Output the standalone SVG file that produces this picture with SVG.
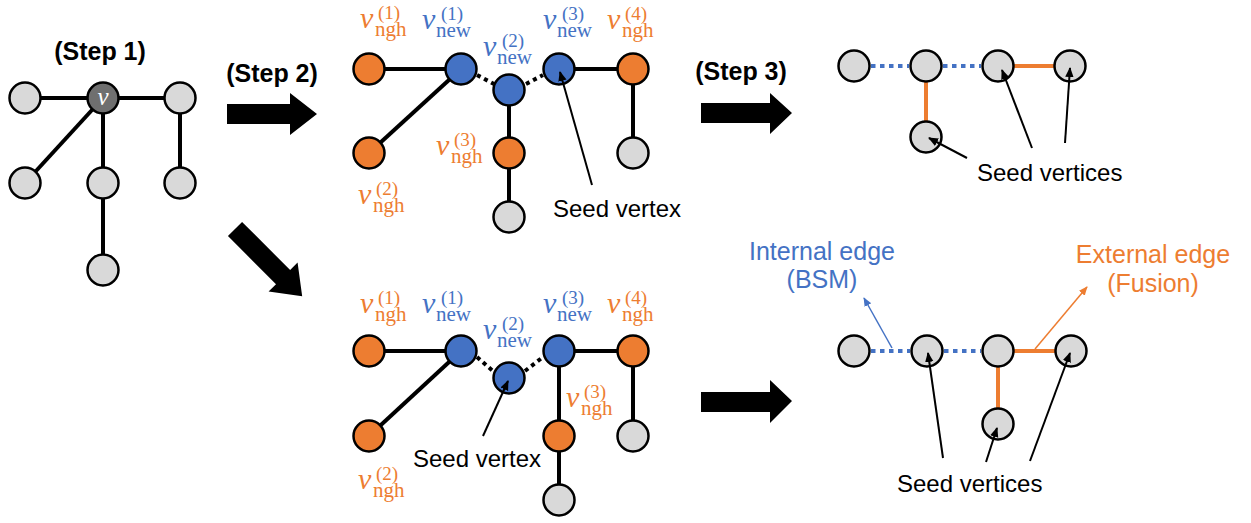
<svg xmlns="http://www.w3.org/2000/svg" width="1251" height="523" viewBox="0 0 1251 523">
<style>
.n{fill:#D9D9D9;stroke:#000;stroke-width:2.5}
.nd{fill:#6F6F6F;stroke:#000;stroke-width:2.5}
.no{fill:#ED7D31;stroke:#000;stroke-width:2.5}
.nb{fill:#4472C4;stroke:#000;stroke-width:2.5}
.e{stroke:#000;stroke-width:4;fill:none}
.ed{stroke:#000;stroke-width:4;stroke-dasharray:4 4;fill:none}
.eb{stroke:#4472C4;stroke-width:4;stroke-dasharray:4.5 4.5;fill:none}
.eo{stroke:#ED7D31;stroke-width:4;fill:none}
.ta{stroke:#000;stroke-width:2;fill:none;marker-end:url(#ak)}
.tb{stroke:#4472C4;stroke-width:1.5;fill:none;marker-end:url(#ab)}
.to{stroke:#ED7D31;stroke-width:1.5;fill:none;marker-end:url(#ao)}
.big{fill:#000}
.step{font-family:"Liberation Sans",Arial,sans-serif;font-weight:bold;font-size:25px;fill:#000}
.lab{font-family:"Liberation Sans",Arial,sans-serif;font-size:24px;fill:#000}
.labb{font-family:"Liberation Sans",Arial,sans-serif;font-size:25px;fill:#4472C4;text-anchor:middle}
.labo{font-family:"Liberation Sans",Arial,sans-serif;font-size:25px;fill:#ED7D31;text-anchor:middle}
.m{font-family:"Liberation Serif","Times New Roman",serif}
.mv{font-style:italic;font-size:30px}
.ms{font-size:21px}
.mp{font-size:19px}
.lo{fill:#ED7D31}
.lb{fill:#4472C4}
</style>
<defs>
<marker id="ak" markerUnits="userSpaceOnUse" markerWidth="10" markerHeight="10" viewBox="0 0 10 10" refX="9" refY="5" orient="auto"><path d="M0,0.8 L10,5 L0,9.2 Z" fill="#000"/></marker>
<marker id="ab" markerUnits="userSpaceOnUse" markerWidth="9" markerHeight="9" viewBox="0 0 10 10" refX="9" refY="5" orient="auto"><path d="M0,0.8 L10,5 L0,9.2 Z" fill="#4472C4"/></marker>
<marker id="ao" markerUnits="userSpaceOnUse" markerWidth="9" markerHeight="9" viewBox="0 0 10 10" refX="9" refY="5" orient="auto"><path d="M0,0.8 L10,5 L0,9.2 Z" fill="#ED7D31"/></marker>
</defs>

<g id="connectors">
<!-- step 1 graph -->
<line class="e" x1="25" y1="98" x2="180" y2="98"/>
<line class="e" x1="103" y1="98" x2="25" y2="183"/>
<line class="e" x1="103" y1="98" x2="103" y2="270"/>
<line class="e" x1="180" y1="98" x2="180" y2="183"/>
<!-- step 2 top -->
<line class="e" x1="369" y1="69" x2="461" y2="69"/>
<line class="e" x1="461" y1="69" x2="369" y2="153"/>
<line class="ed" x1="477" y1="75" x2="494" y2="84"/>
<line class="ed" x1="526" y1="84" x2="543" y2="75"/>
<line class="e" x1="559" y1="69" x2="633" y2="69"/>
<line class="e" x1="509" y1="90" x2="509" y2="217"/>
<line class="e" x1="633" y1="69" x2="633" y2="153"/>
<!-- step 2 bottom -->
<line class="e" x1="369" y1="351" x2="461" y2="351"/>
<line class="e" x1="461" y1="351" x2="369" y2="436"/>
<line class="ed" x1="477" y1="357" x2="494" y2="372"/>
<line class="ed" x1="525" y1="371" x2="543" y2="357"/>
<line class="e" x1="559" y1="351" x2="633" y2="351"/>
<line class="e" x1="559" y1="351" x2="559" y2="500"/>
<line class="e" x1="633" y1="351" x2="633" y2="436"/>
<!-- step 3 top -->
<line class="eb" x1="871" y1="66" x2="909" y2="66"/>
<line class="eb" x1="943" y1="66" x2="981" y2="66"/>
<line class="eo" x1="998" y1="66" x2="1070" y2="66"/>
<line class="eo" x1="926" y1="66" x2="926" y2="137"/>
<!-- step 3 bottom -->
<line class="eb" x1="871" y1="351" x2="910" y2="351"/>
<line class="eb" x1="944" y1="351" x2="981" y2="351"/>
<line class="eo" x1="998" y1="351" x2="1071" y2="351"/>
<line class="eo" x1="998" y1="351" x2="998" y2="424"/>
<!-- big arrows -->
<polygon class="big" points="227,104 290,104 290,93 317,114 290,135 290,124 227,124"/>
<polygon class="big" points="701,103 770,103 770,93 792,113 770,134 770,123 701,123"/>
<polygon class="big" points="701,392 770,392 770,380 792,401 770,423 770,412 701,412"/>
<polygon class="big" transform="translate(235,229) rotate(45)" points="0,-10 68,-10 68,-20.5 95,0 68,20.5 68,10 0,10"/>
</g>

<!-- step 1 nodes -->
<g id="s1-left"><circle class="n" cx="25" cy="98" r="15.5"/></g>
<g id="s1-v"><circle class="nd" cx="103" cy="98" r="15.5"/><text x="103" y="105" text-anchor="middle" font-family="Liberation Serif, serif" font-style="italic" font-size="25" fill="#fff">v</text></g>
<g id="s1-right"><circle class="n" cx="180" cy="98" r="15.5"/></g>
<g id="s1-bl"><circle class="n" cx="25" cy="183" r="15.5"/></g>
<g id="s1-mid"><circle class="n" cx="103" cy="183" r="15.5"/></g>
<g id="s1-br"><circle class="n" cx="180" cy="183" r="15.5"/></g>
<g id="s1-bottom"><circle class="n" cx="103" cy="270" r="15.5"/></g>

<!-- step 2 top nodes -->
<g id="t-ngh1"><circle class="no" cx="369" cy="69" r="15.5"/></g>
<g id="t-new1"><circle class="nb" cx="461" cy="69" r="15.5"/></g>
<g id="t-new2"><circle class="nb" cx="509" cy="90" r="15.5"/></g>
<g id="t-new3"><circle class="nb" cx="559" cy="69" r="15.5"/></g>
<g id="t-ngh4"><circle class="no" cx="633" cy="69" r="15.5"/></g>
<g id="t-ngh2"><circle class="no" cx="369" cy="153" r="15.5"/></g>
<g id="t-ngh3"><circle class="no" cx="509" cy="153" r="15.5"/></g>
<g id="t-g1"><circle class="n" cx="509" cy="217" r="15.5"/></g>
<g id="t-g2"><circle class="n" cx="633" cy="153" r="15.5"/></g>

<!-- step 2 bottom nodes -->
<g id="b-ngh1"><circle class="no" cx="369" cy="351" r="15.5"/></g>
<g id="b-new1"><circle class="nb" cx="461" cy="351" r="15.5"/></g>
<g id="b-new2"><circle class="nb" cx="509" cy="378" r="15.5"/></g>
<g id="b-new3"><circle class="nb" cx="559" cy="351" r="15.5"/></g>
<g id="b-ngh4"><circle class="no" cx="633" cy="351" r="15.5"/></g>
<g id="b-ngh2"><circle class="no" cx="369" cy="436" r="15.5"/></g>
<g id="b-ngh3"><circle class="no" cx="559" cy="436" r="15.5"/></g>
<g id="b-g1"><circle class="n" cx="559" cy="500" r="15.5"/></g>
<g id="b-g2"><circle class="n" cx="633" cy="436" r="15.5"/></g>

<!-- step 3 nodes -->
<g id="r1-a"><circle class="n" cx="854" cy="66" r="15.5"/></g>
<g id="r1-b"><circle class="n" cx="926" cy="66" r="15.5"/></g>
<g id="r1-c"><circle class="n" cx="998" cy="66" r="15.5"/></g>
<g id="r1-d"><circle class="n" cx="1070" cy="66" r="15.5"/></g>
<g id="r1-e"><circle class="n" cx="926" cy="137" r="15.5"/></g>
<g id="r2-a"><circle class="n" cx="854" cy="351" r="15.5"/></g>
<g id="r2-b"><circle class="n" cx="927" cy="351" r="15.5"/></g>
<g id="r2-c"><circle class="n" cx="998" cy="351" r="15.5"/></g>
<g id="r2-d"><circle class="n" cx="1071" cy="351" r="15.5"/></g>
<g id="r2-e"><circle class="n" cx="998" cy="424" r="15.5"/></g>

<!-- pointer arrows (drawn above nodes) -->
<g id="pointers">
<line class="ta" x1="592" y1="185" x2="560" y2="72"/>
<line class="ta" x1="483" y1="436" x2="508" y2="381"/>
<line class="ta" x1="967" y1="158" x2="929" y2="138"/>
<line class="ta" x1="1032" y1="148" x2="1002" y2="70"/>
<line class="ta" x1="1065" y1="143" x2="1070" y2="68"/>
<line class="ta" x1="943" y1="458" x2="928" y2="353"/>
<line class="ta" x1="986" y1="462" x2="997" y2="428"/>
<line class="ta" x1="1030" y1="461" x2="1070" y2="353"/>
<line class="tb" x1="892" y1="348" x2="864" y2="298"/>
<line class="to" x1="1035" y1="349" x2="1087" y2="287"/>
</g>

<!-- step labels -->
<text class="step" x="100" y="60" text-anchor="middle">(Step 1)</text>
<text class="step" x="272" y="82" text-anchor="middle">(Step 2)</text>
<text class="step" x="741" y="80" text-anchor="middle">(Step 3)</text>

<!-- math labels top -->
<text class="m lo"><tspan class="mv" x="360" y="28">v</tspan><tspan class="mp" x="378" y="19">(1)</tspan><tspan class="ms" x="375" y="36">ngh</tspan></text>
<text class="m lb"><tspan class="mv" x="422" y="29">v</tspan><tspan class="mp" x="441" y="20">(1)</tspan><tspan class="ms" x="436" y="37">new</tspan></text>
<text class="m lb"><tspan class="mv" x="483" y="56">v</tspan><tspan class="mp" x="502" y="47">(2)</tspan><tspan class="ms" x="497" y="64">new</tspan></text>
<text class="m lb"><tspan class="mv" x="543" y="29">v</tspan><tspan class="mp" x="562" y="20">(3)</tspan><tspan class="ms" x="557" y="37">new</tspan></text>
<text class="m lo"><tspan class="mv" x="607" y="29">v</tspan><tspan class="mp" x="625" y="20">(4)</tspan><tspan class="ms" x="622" y="37">ngh</tspan></text>
<text class="m lo"><tspan class="mv" x="436" y="155">v</tspan><tspan class="mp" x="454" y="146">(3)</tspan><tspan class="ms" x="451" y="163">ngh</tspan></text>
<text class="m lo"><tspan class="mv" x="358" y="204">v</tspan><tspan class="mp" x="376" y="195">(2)</tspan><tspan class="ms" x="373" y="212">ngh</tspan></text>

<!-- math labels bottom -->
<text class="m lo"><tspan class="mv" x="360" y="313">v</tspan><tspan class="mp" x="378" y="304">(1)</tspan><tspan class="ms" x="375" y="321">ngh</tspan></text>
<text class="m lb"><tspan class="mv" x="422" y="313">v</tspan><tspan class="mp" x="441" y="304">(1)</tspan><tspan class="ms" x="436" y="321">new</tspan></text>
<text class="m lb"><tspan class="mv" x="483" y="339">v</tspan><tspan class="mp" x="502" y="330">(2)</tspan><tspan class="ms" x="497" y="347">new</tspan></text>
<text class="m lb"><tspan class="mv" x="543" y="313">v</tspan><tspan class="mp" x="562" y="304">(3)</tspan><tspan class="ms" x="557" y="321">new</tspan></text>
<text class="m lo"><tspan class="mv" x="607" y="313">v</tspan><tspan class="mp" x="625" y="304">(4)</tspan><tspan class="ms" x="622" y="321">ngh</tspan></text>
<text class="m lo"><tspan class="mv" x="566" y="407">v</tspan><tspan class="mp" x="584" y="398">(3)</tspan><tspan class="ms" x="581" y="415">ngh</tspan></text>
<text class="m lo"><tspan class="mv" x="358" y="489">v</tspan><tspan class="mp" x="376" y="480">(2)</tspan><tspan class="ms" x="373" y="497">ngh</tspan></text>

<!-- text labels -->
<text class="lab" x="553" y="217">Seed vertex</text>
<text class="lab" x="413" y="467">Seed vertex</text>
<text class="lab" x="977" y="181" font-size="25">Seed vertices</text>
<text class="lab" x="897" y="492" font-size="25">Seed vertices</text>
<text class="labb" x="822" y="260">Internal edge</text>
<text class="labb" x="822" y="288">(BSM)</text>
<text class="labo" x="1153" y="263">External edge</text>
<text class="labo" x="1153" y="292">(Fusion)</text>
</svg>
